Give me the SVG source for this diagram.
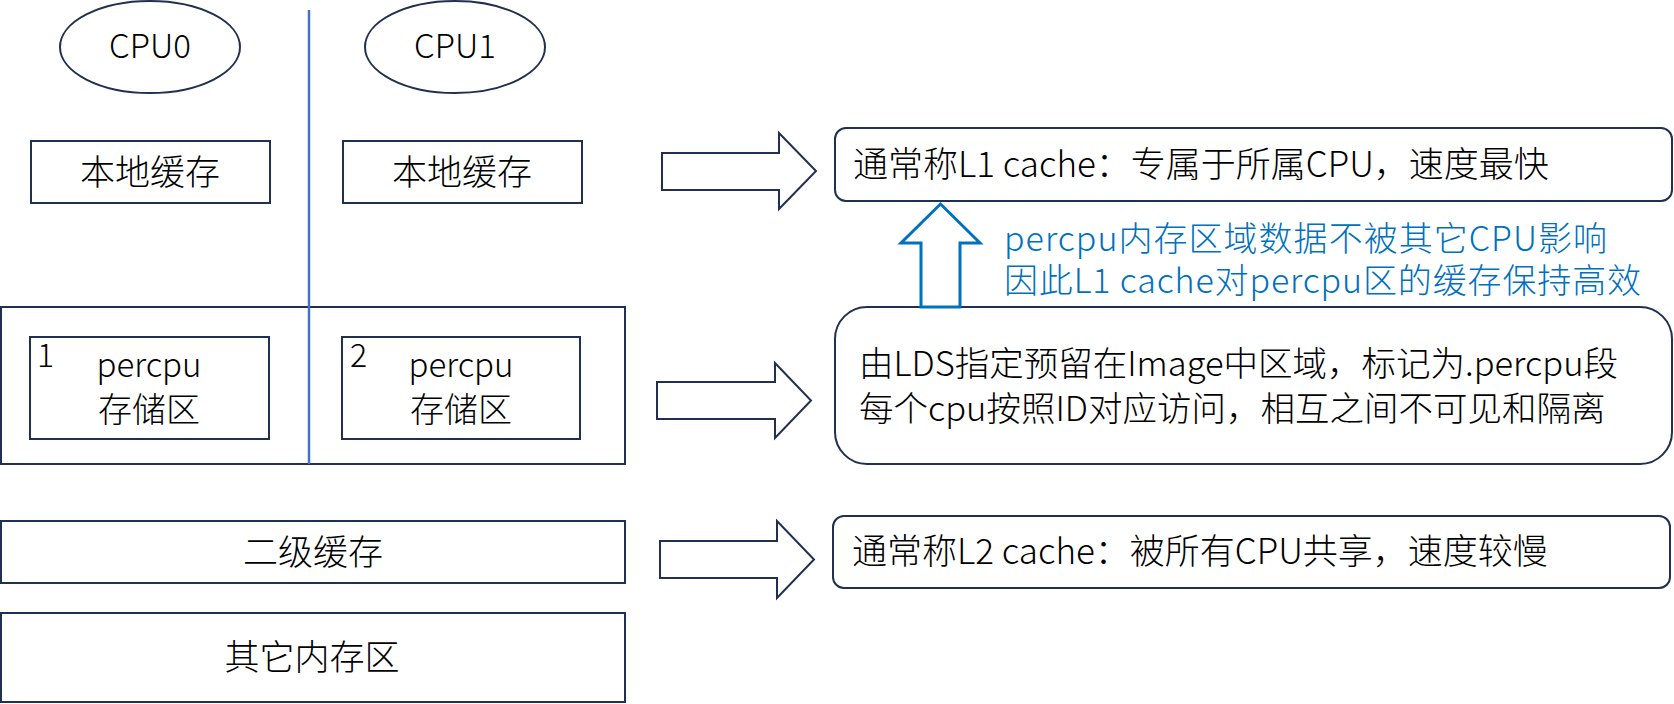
<svg xmlns="http://www.w3.org/2000/svg" width="1674" height="704" viewBox="0 0 1674 704">
<style>
.box{fill:#fff;stroke:#1F3050;stroke-width:2}
.arr{fill:#fff;stroke:#1F3050;stroke-width:2;stroke-linejoin:miter}
.t{font-family:"Noto Sans CJK SC","Noto Sans",sans-serif;font-weight:300;fill:#000}
.c{text-anchor:middle}
.b{fill:#0070C0}
</style>
<rect width="1674" height="704" fill="#fff"/>
<g id="cpu0"><ellipse class="box" cx="150" cy="47" rx="90" ry="46"/><text class="t c" x="150" y="58" font-size="33">CPU0</text></g>
<g id="cpu1"><ellipse class="box" cx="455" cy="47" rx="90" ry="46"/><text class="t c" x="455" y="58" font-size="33">CPU1</text></g>
<g id="local0"><rect class="box" x="31" y="141" width="239" height="62"/><text class="t c" x="150" y="185" font-size="35">本地缓存</text></g>
<g id="local1"><rect class="box" x="343" y="141" width="239" height="62"/><text class="t c" x="462" y="185" font-size="35">本地缓存</text></g>
<g id="percpu-area"><rect class="box" x="1" y="307" width="624" height="157"/></g>
<g id="divider"><line x1="309" y1="10" x2="309" y2="464" stroke="#4472C4" stroke-width="2.5"/></g>
<g id="percpu1"><rect class="box" x="30" y="337" width="239" height="102"/><text class="t" x="37" y="367" font-size="32">1</text><text class="t c" x="149" y="377" font-size="33">percpu</text><text class="t c" x="149" y="422" font-size="34">存储区</text></g>
<g id="percpu2"><rect class="box" x="342" y="337" width="238" height="102"/><text class="t" x="350" y="367" font-size="32">2</text><text class="t c" x="461" y="377" font-size="33">percpu</text><text class="t c" x="461" y="422" font-size="34">存储区</text></g>
<g id="l2"><rect class="box" x="1" y="521" width="624" height="62"/><text class="t c" x="313" y="565" font-size="35">二级缓存</text></g>
<g id="other"><rect class="box" x="1" y="613" width="624" height="89"/><text class="t c" x="312" y="670" font-size="35">其它内存区</text></g>
<g id="l1desc"><rect class="box" x="835" y="128" width="837" height="73" rx="11"/><text class="t" x="853" y="177" font-size="35">通常称L1 cache：专属于所属CPU，速度最快</text></g>
<g id="percpudesc"><rect class="box" x="835" y="307" width="837" height="157" rx="32"/><text class="t" x="859" y="376" font-size="34.5">由LDS指定预留在Image中区域，标记为.percpu段</text><text class="t" x="859" y="421" font-size="34.5">每个cpu按照ID对应访问，相互之间不可见和隔离</text></g>
<g id="l2desc"><rect class="box" x="833" y="516" width="837" height="72" rx="11"/><text class="t" x="852" y="564" font-size="35">通常称L2 cache：被所有CPU共享，速度较慢</text></g>
<g id="note"><text class="t b" x="1004" y="251" font-size="34" textLength="603">percpu内存区域数据不被其它CPU影响</text><text class="t b" x="1004" y="293" font-size="34" textLength="637">因此L1 cache对percpu区的缓存保持高效</text></g>
<g id="connectors">
<polygon class="arr" points="662,153 779,153 779,133 816,171 779,209 779,190 662,190"/>
<polygon class="arr" points="657,382 775,382 775,363 811,400.5 775,438 775,419 657,419"/>
<polygon class="arr" points="660,541 777,541 777,521 814,559.5 777,598 777,578 660,578"/>
<polygon points="921,307 921,243 901,243 940.5,204 980,243 960,243 960,307" fill="#fff" stroke="#0070C0" stroke-width="3"/>
</g>
</svg>
